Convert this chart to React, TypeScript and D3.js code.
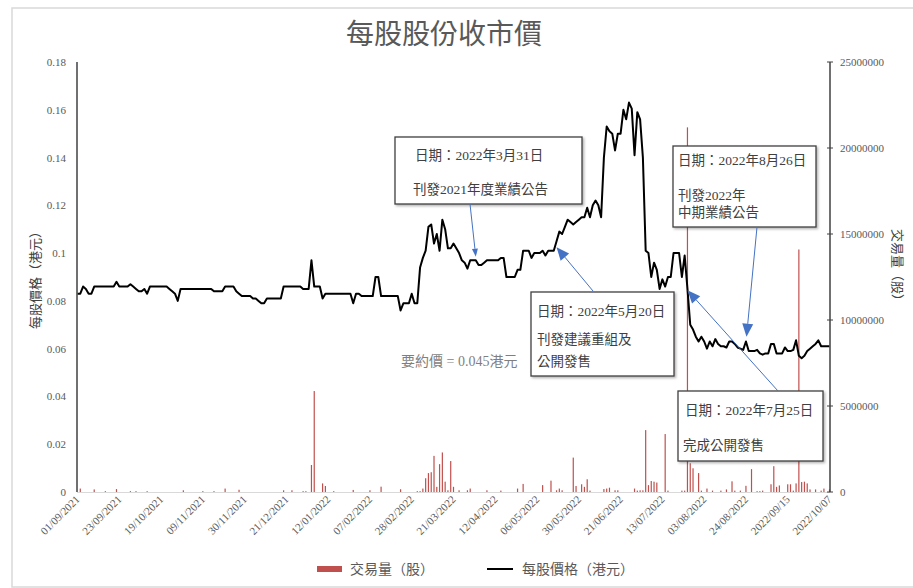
import React from "react";
import * as d3 from "d3";

const title = "每股股份收市價";
const tickLabels = ["01/09/2021","23/09/2021","19/10/2021","09/11/2021","30/11/2021","21/12/2021","12/01/2022","07/02/2022","28/02/2022","21/03/2022","12/04/2022","06/05/2022","30/05/2022","21/06/2022","13/07/2022","03/08/2022","24/08/2022","2022/09/15","2022/10/07"];
const tickStep = 15;
const priceTicks = [0, 0.02, 0.04, 0.06, 0.08, 0.1, 0.12, 0.14, 0.16, 0.18];
const volumeTicks = [0, 5000000, 10000000, 15000000, 20000000, 25000000];
const offerPrice = 0.045;

const price = [
  0.083,0.083,0.086,0.085,0.083,0.083,0.086,0.086,0.086,0.086,
  0.086,0.086,0.086,0.086,0.088,0.086,0.086,0.086,0.086,0.087,
  0.086,0.085,0.084,0.084,0.085,0.083,0.086,0.086,0.086,0.086,
  0.086,0.086,0.086,0.085,0.084,0.083,0.080,0.085,0.085,0.085,
  0.085,0.085,0.085,0.085,0.085,0.085,0.085,0.085,0.085,0.084,
  0.084,0.084,0.084,0.086,0.086,0.086,0.086,0.084,0.083,0.082,
  0.082,0.082,0.082,0.081,0.081,0.080,0.079,0.079,0.081,0.081,
  0.081,0.081,0.081,0.081,0.086,0.086,0.086,0.086,0.086,0.086,
  0.086,0.085,0.085,0.085,0.097,0.086,0.086,0.086,0.081,0.083,
  0.083,0.083,0.083,0.083,0.083,0.083,0.083,0.083,0.083,0.079,
  0.083,0.083,0.082,0.082,0.082,0.082,0.082,0.090,0.090,0.082,
  0.082,0.082,0.082,0.082,0.082,0.082,0.076,0.079,0.079,0.079,
  0.083,0.079,0.079,0.094,0.098,0.101,0.111,0.112,0.104,0.108,
  0.101,0.114,0.110,0.102,0.102,0.104,0.102,0.100,0.097,0.096,
  0.0935,0.097,0.097,0.097,0.095,0.095,0.096,0.097,0.097,0.097,
  0.097,0.097,0.098,0.098,0.090,0.090,0.090,0.090,0.093,0.093,
  0.101,0.101,0.101,0.098,0.100,0.100,0.100,0.101,0.099,0.101,
  0.101,0.101,0.105,0.109,0.108,0.111,0.114,0.113,0.112,0.113,
  0.114,0.115,0.115,0.119,0.115,0.120,0.122,0.120,0.115,0.140,
  0.153,0.151,0.150,0.143,0.150,0.150,0.160,0.156,0.163,0.1605,
  0.141,0.159,0.156,0.140,0.101,0.100,0.090,0.096,0.093,0.085,
  0.089,0.086,0.090,0.090,0.100,0.100,0.100,0.090,0.099,0.085,
  0.070,0.068,0.065,0.063,0.065,0.063,0.060,0.063,0.061,0.064,
  0.062,0.061,0.061,0.0605,0.063,0.063,0.062,0.0605,0.060,0.0595,
  0.063,0.059,0.059,0.059,0.0595,0.058,0.0575,0.058,0.058,0.062,
  0.062,0.058,0.058,0.058,0.0605,0.059,0.059,0.0595,0.0635,0.057,
  0.056,0.057,0.059,0.060,0.061,0.062,0.0635,0.061,0.061,0.061,
  0.061
];

const volume = [
  0,200000,0,0,0,0,150000,0,0,0,
  50000,0,0,0,170000,0,0,0,0,50000,
  0,50000,0,0,0,50000,0,0,0,0,
  0,0,0,0,0,0,0,0,100000,0,
  0,0,0,0,0,50000,0,0,0,50000,
  0,0,0,200000,0,0,0,0,130000,0,
  0,0,0,0,0,0,0,0,0,0,
  0,0,0,0,100000,0,0,100000,0,0,
  0,50000,50000,0,1570000,5870000,0,0,500000,350000,
  0,0,50000,0,0,0,0,0,0,120000,
  0,0,0,0,0,100000,0,0,0,310000,
  0,0,0,0,0,0,160000,0,0,0,
  0,0,50000,50000,200000,800000,1100000,1150000,2100000,300000,
  1620000,2300000,600000,100000,1800000,300000,0,100000,0,0,
  100000,200000,0,0,0,0,0,100000,0,0,
  0,0,80000,0,0,0,0,0,200000,0,
  470000,0,0,0,0,0,0,400000,0,0,
  660000,0,100000,200000,100000,0,0,0,2000000,350000,
  0,450000,300000,740000,80000,0,0,0,0,170000,
  200000,250000,0,100000,100000,0,0,0,0,0,
  200000,80000,100000,100000,3600000,400000,640000,600000,550000,0,
  0,3370000,80000,0,0,0,0,80000,80000,21200000,
  1670000,1380000,0,1100000,80000,0,200000,0,80000,0,
  0,80000,0,150000,0,620000,80000,0,80000,0,
  360000,0,1330000,0,50000,50000,80000,0,0,450000,
  1500000,300000,380000,0,0,450000,450000,80000,500000,14100000,
  580000,600000,500000,150000,0,150000,0,80000,200000,0,
  150000
];

const annotations = [
  { box: [395, 137, 187, 67], lines: [[415, 160, "日期：2022年3月31日"], [413, 194, "刊發2021年度業績公告"]], from: [470, 204], tipIndex: 143, tipPrice: 0.0985, head: [8, 6] },
  { box: [531, 292, 143, 84], lines: [[537, 316, "日期：2022年5月20日"], [537, 344, "刊發建議重組及"], [537, 366, "公開發售"]], from: [593, 291], tipIndex: 172, tipPrice: 0.1025, head: [13, 11] },
  { box: [673, 146, 143, 81], lines: [[678, 165, "日期：2022年8月26日"], [678, 200, "刊發2022年"], [678, 217, "中期業績公告"]], from: [757, 227], tipIndex: 240.2, tipPrice: 0.0650, head: [13, 11] },
  { box: [678, 391, 145, 70], lines: [[685, 415, "日期：2022年7月25日"], [683, 450, "完成公開發售"]], from: [778, 391], tipIndex: 219, tipPrice: 0.0845, head: [13, 11] },
];

const FONT = "'Liberation Serif', 'Times New Roman', 'Noto Sans CJK TC', serif";

export default function App() {
  const W = 913, H = 588;
  const x = d3.scaleLinear().domain([0, price.length - 1]).range([77.5, 829.5]);
  const yP = d3.scaleLinear().domain([0, 0.18]).range([492, 62]);
  const yV = d3.scaleLinear().domain([0, 25000000]).range([492, 62]);
  const line = d3.line<number>().x((_, i) => x(i)).y((d) => yP(d));
  const pFmt = d3.format("~g");

  const arrowHead = (fx: number, fy: number, tx: number, ty: number, len: number, wid: number) => {
    const dx = tx - fx, dy = ty - fy;
    const L = Math.hypot(dx, dy);
    const ux = dx / L, uy = dy / L;
    const bx = tx - ux * len, by = ty - uy * len;
    const px = -uy * wid / 2, py = ux * wid / 2;
    return { pts: `${tx},${ty} ${bx + px},${by + py} ${bx - px},${by - py}`, bx, by };
  };

  return (
    <svg width={W} height={H} style={{ position: "absolute", left: 0, top: 0, background: "#fff" }} fontFamily={FONT}>
      <defs>
        <filter id="shadow" x="-5%" y="-50%" width="110%" height="300%">
          <feDropShadow dx="0" dy="2" stdDeviation="1.5" floodColor="#000" floodOpacity="0.35" />
        </filter>
        <filter id="boxshadow" x="-10%" y="-10%" width="130%" height="130%">
          <feDropShadow dx="1.5" dy="1.5" stdDeviation="1" floodColor="#000" floodOpacity="0.3" />
        </filter>
      </defs>
      <rect x={12} y={8} width={W} height={579} fill="#fff" stroke="#d9d9d9" strokeWidth={1.5} />
      <text x={444} y={44} textAnchor="middle" fontSize={28} fill="#595959">{title}</text>

      {/* x axis */}
      <line x1={77} x2={830} y1={492.5} y2={492.5} stroke="#d9d9d9" strokeWidth={1} />
      {tickLabels.map((t, k) => (
        <text key={t} transform={`translate(${x(k * tickStep) + 3},${500}) rotate(-45)`} textAnchor="end" fontSize={11} fill="#595959">{t}</text>
      ))}

      {/* volume bars */}
      {volume.map((v, i) => v > 0 ? (
        <rect key={i} x={x(i) - 0.6} y={yV(v)} width={1.2} height={492 - yV(v)} fill="#C0504D" />
      ) : null)}

      {/* offer price dashed line */}
      <line x1={78} x2={830} y1={yP(offerPrice)} y2={yP(offerPrice)} stroke="#4F81BD" strokeWidth={3.5} strokeDasharray="13,6" filter="url(#shadow)" />
      <text x={401} y={366} fontSize={14} fill="#7f7f7f">要約價 = 0.045港元</text>

      {/* price line */}
      <path d={line(price) || ""} fill="none" stroke="#000" strokeWidth={2} strokeLinejoin="round" />

      {/* left axis */}
      <line x1={77} x2={77} y1={62} y2={492} stroke="#404040" strokeWidth={1.5} />
      {priceTicks.map((t) => (
        <text key={t} x={66} y={yP(t) + 4} textAnchor="end" fontSize={11} fill="#595959">{pFmt(t)}</text>
      ))}
      <text transform={`translate(40,277) rotate(-90)`} textAnchor="middle" fontSize={13} fill="#404040">每股價格（港元）</text>

      {/* right axis */}
      <line x1={830} x2={830} y1={62} y2={492} stroke="#404040" strokeWidth={1.5} />
      {volumeTicks.map((t) => (
        <g key={t}>
          <line x1={827} x2={833} y1={yV(t)} y2={yV(t)} stroke="#404040" strokeWidth={1} />
          <text x={840} y={yV(t) + 4} fontSize={11} fill="#595959">{t}</text>
        </g>
      ))}
      <text transform={`translate(893,268) rotate(90)`} textAnchor="middle" fontSize={13} fill="#404040">交易量（股）</text>

      {/* annotations */}
      {annotations.map((a, k) => {
        const tx = x(a.tipIndex), ty = yP(a.tipPrice);
        const h = arrowHead(a.from[0], a.from[1], tx, ty, a.head[0], a.head[1]);
        return (
          <g key={k}>
            <rect x={a.box[0]} y={a.box[1]} width={a.box[2]} height={a.box[3]} fill="#fff" stroke="#404040" strokeWidth={1.3} filter="url(#boxshadow)" />
            {a.lines.map((l, j) => (
              <text key={j} x={l[0] as number} y={l[1] as number} fontSize={13.5} fill="#404040">{l[2]}</text>
            ))}
            <line x1={a.from[0]} y1={a.from[1]} x2={h.bx} y2={h.by} stroke="#4472C4" strokeWidth={1} />
            <polygon points={h.pts} fill="#4472C4" />
          </g>
        );
      })}

      {/* legend */}
      <rect x={317} y={566} width={25} height={6} fill="#C0504D" />
      <text x={350} y={574} fontSize={14} fill="#595959">交易量（股）</text>
      <line x1={487} x2={513} y1={569} y2={569} stroke="#000" strokeWidth={2} />
      <text x={522} y={574} fontSize={14} fill="#595959">每股價格（港元）</text>
    </svg>
  );
}
